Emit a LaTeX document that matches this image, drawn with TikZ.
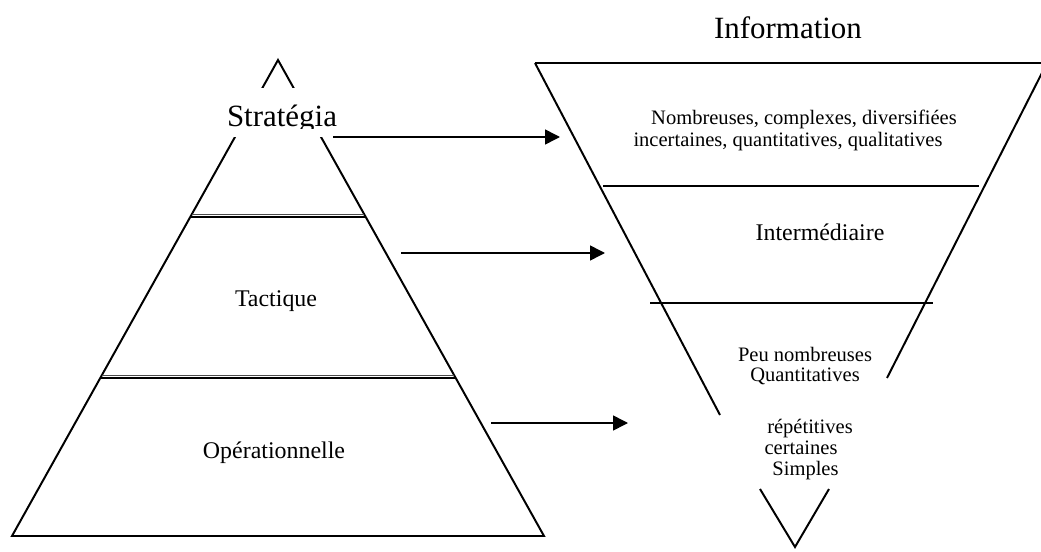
\documentclass[tikz,border=0pt]{standalone}
\usepackage{fontspec}
\setmainfont{Liberation Serif}
\usetikzlibrary{arrows.meta}
\tikzset{
	big/.style={font=\fontsize{22}{26}\selectfont, anchor=base, inner sep=0pt},
	mid/.style={font=\fontsize{17}{20}\selectfont, anchor=base, inner sep=0pt},
	small/.style={font=\fontsize{14.6}{17}\selectfont, anchor=base, inner sep=0pt}
}
\begin{document}
\begin{tikzpicture}[x=0.025cm, y=-0.025cm, line width=1.4pt, >={Triangle[length=10.5pt, width=10.5pt]}]
		\clip (0,0) rectangle (1041,552);
		\coordinate (top) at (278,60);
		\coordinate (bl) at (12,536);
		\coordinate (br) at (544,536);
		\draw (top) -- (bl) -- (br) -- cycle;
		\fill[white] (222,88) rectangle (336,137);
		\draw[line width=0.6pt, black!70] (192.4,214) -- (363.6,214);
		\draw[line width=1.5pt] (191,216.6) -- (365,216.6);
		\draw[line width=0.6pt, black!70] (102.3,375.6) -- (453.7,375.6);
		\draw[line width=1.5pt] (101,378.2) -- (455,378.2);
		\begin{scope}
			\clip (200,80) rectangle (360,128);
			\node (strat)[big] at (282,126) {Stratégia};
		\end{scope}
		\node (tact)[mid] at (276,306) {Tactique};
		\node (oper)[mid] at (274,458) {Opérationnelle};
		\coordinate (itl) at (535,63);
		\coordinate (itr) at (1047,63);
		\draw (itl) -- (720,415);
		\draw (itr) -- (887,378);
		\draw (itl) -- (itr);
		\draw (603,186) -- (979,186);
		\draw (650,303) -- (933,303);
		\draw (760,489) -- (795,547) -- (829,489);
		\node (info)[big] at (788,38) {Information};
		\node (n1)[small] at (804,124) {Nombreuses, complexes, diversifiées};
		\node (n2)[small] at (788,146.7) {incertaines, quantitatives, qualitatives};
		\node (inter)[mid] at (820,240.7) {Intermédiaire};
		\node (p1)[small] at (805,361.7) {Peu nombreuses};
		\node (p2)[small] at (805,381.7) {Quantitatives};
		\node (r1)[small] at (810,433) {répétitives};
		\node (r2)[small] at (801,454) {certaines};
		\node (r3)[small] at (805.5,475) {Simples};
		\coordinate (a1) at (333,137);
		\coordinate (b1) at (560,137);
		\coordinate (a2) at (401,253);
		\coordinate (b2) at (605,253);
		\coordinate (a3) at (491,423);
		\coordinate (b3) at (628,423);
		\foreach \i in {1,2,3}
		{
			\draw[->, line width=1.1pt] (a\i) -- (b\i);
		}
	\end{tikzpicture}
\end{document}
